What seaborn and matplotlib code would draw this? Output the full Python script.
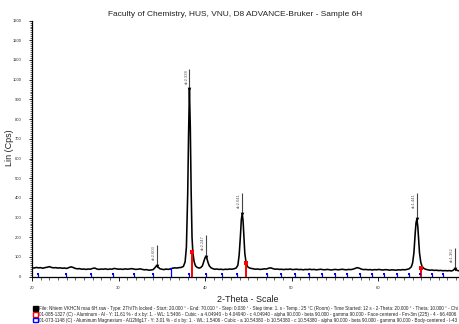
import matplotlib
matplotlib.use("Agg")
import matplotlib.pyplot as plt
from matplotlib.patches import Rectangle
from matplotlib.ticker import MultipleLocator
import pandas as pd
import seaborn as sns

two_theta = [
    20.0, 20.25, 20.5, 20.75, 21.0, 21.25, 21.5, 21.75, 22.0, 22.25, 22.5, 22.75,
    23.0, 23.25, 23.5, 23.75, 24.0, 24.25, 24.5, 24.75, 25.0, 25.25, 25.5, 25.75,
    26.0, 26.25, 26.5, 26.75, 27.0, 27.25, 27.5, 27.75, 28.0, 28.25, 28.5, 28.75,
    29.0, 29.25, 29.5, 29.75, 30.0, 30.25, 30.5, 30.75, 31.0, 31.25, 31.5, 31.75,
    32.0, 32.25, 32.5, 32.75, 33.0, 33.25, 33.5, 33.75, 34.0, 34.2, 34.4, 34.6,
    34.8, 35.0, 35.25, 35.5, 35.75, 36.0, 36.25, 36.5, 36.75, 37.0, 37.25, 37.5,
    37.7, 37.85, 38.0, 38.1, 38.2, 38.3, 38.4, 38.5, 38.6, 38.75, 38.9, 39.1,
    39.3, 39.5, 39.7, 39.85, 40.0, 40.1, 40.2, 40.35, 40.5, 40.7, 40.9, 41.1,
    41.35, 41.6, 41.85, 42.1, 42.35, 42.6, 42.85, 43.1, 43.35, 43.6, 43.8, 43.95,
    44.1, 44.2, 44.3, 44.4, 44.5, 44.6, 44.75, 44.9, 45.1, 45.35, 45.6, 45.85,
    46.1, 46.35, 46.6, 46.85, 47.1, 47.35, 47.6, 47.85, 48.1, 48.35, 48.6, 48.85,
    49.1, 49.35, 49.6, 49.85, 50.1, 50.35, 50.6, 50.85, 51.1, 51.35, 51.6, 51.85,
    52.1, 52.35, 52.6, 52.85, 53.1, 53.35, 53.6, 53.85, 54.1, 54.35, 54.6, 54.85,
    55.1, 55.35, 55.6, 55.85, 56.1, 56.35, 56.6, 56.85, 57.1, 57.35, 57.6, 57.85,
    58.1, 58.35, 58.6, 58.85, 59.1, 59.35, 59.6, 59.85, 60.1, 60.35, 60.6, 60.85,
    61.1, 61.35, 61.6, 61.85, 62.1, 62.35, 62.6, 62.85, 63.1, 63.35, 63.6, 63.85,
    64.0, 64.15, 64.3, 64.4, 64.5, 64.6, 64.7, 64.8, 64.95, 65.1, 65.3, 65.5,
    65.75, 66.0, 66.25, 66.5, 66.75, 67.0, 67.25, 67.5, 67.75, 68.0, 68.25, 68.5,
    68.7, 68.85, 69.0, 69.2, 69.4,
]
counts = [
    46, 44, 47, 45, 46, 43, 46, 48, 51, 47, 45, 46,
    44, 45, 43, 44, 42, 46, 50, 47, 42, 40, 41, 38,
    39, 37, 39, 38, 42, 44, 39, 37, 39, 38, 40, 37,
    39, 38, 42, 40, 38, 39, 37, 40, 38, 39, 41, 39,
    37, 38, 40, 37, 35, 36, 33, 34, 36, 45, 56, 48,
    40, 38, 36, 39, 37, 40, 43, 45, 44, 46, 47, 52,
    75, 150, 420, 720, 955, 760, 430, 200, 120, 75, 55, 47,
    44, 46, 55, 75, 96, 103, 96, 72, 55, 45, 41, 38,
    39, 37, 38, 36, 38, 37, 39, 38, 40, 44, 58, 110,
    210, 290, 320, 285, 200, 120, 70, 52, 45, 42, 40, 38,
    39, 37, 38, 40, 39, 43, 45, 41, 38, 39, 37, 38,
    36, 38, 37, 39, 36, 37, 38, 36, 37, 35, 37, 36,
    38, 36, 37, 35, 36, 38, 36, 35, 37, 36, 34, 36,
    37, 35, 36, 38, 36, 35, 37, 36, 38, 42, 46, 43,
    38, 36, 37, 35, 36, 34, 36, 35, 37, 35, 34, 36,
    35, 33, 35, 34, 33, 35, 34, 36, 35, 37, 40, 50,
    70, 120, 220, 275, 293, 255, 190, 120, 72, 52, 42, 38,
    35, 33, 34, 32, 33, 31, 32, 30, 31, 30, 31, 29,
    33, 39, 36, 31, 30,
]

# peak picks: position, marker height, top of the pick line, label
peak_pos = [34.4, 38.2, 40.1, 44.3, 64.5, 68.9]
peak_height = [54, 952, 101, 318, 291, 39]
peak_top = [160, 1054, 212, 425, 425, 147]
peak_label = ["d=2.603", "d=2.338", "d=2.247", "d=2.041", "d=1.441", "d=1.362"]

# reference pattern 01-085-1327 Aluminum (red)
al_pos = [38.47, 44.72, 65.0]
al_height = [127, 71, 44]

# reference pattern 01-073-1148 Al12Mg17 (blue)
mg_pos = [20.73, 23.93, 26.79, 29.40, 31.83, 34.02, 36.10, 38.18, 40.08, 41.93,
          43.73, 47.13, 48.79, 50.44, 51.99, 53.53, 55.03, 56.45, 57.95, 59.34,
          60.73, 62.16, 63.58, 64.86, 66.21, 67.48]
mg_height = [14, 14, 14, 14, 14, 14, 39, 14, 14, 14,
             14, 14, 14, 14, 14, 14, 14, 14, 14, 14,
             14, 14, 14, 14, 14, 14]

legend_rows = [
    "File: Nhiem VKHCN mau 6H.raw - Type: 2Th/Th locked - Start: 20.000 \u00b0 - End: 70.010 \u00b0 - Step: 0.030 \u00b0 - Step time: 1. s - Temp.: 25 \u00b0C (Room) - Time Started: 12 s - 2-Theta: 20.000 \u00b0 - Theta: 10.000 \u00b0 - Chi",
    "01-085-1327 (C) - Aluminum - Al - Y: 11.61 % - d x by: 1. - WL: 1.5406 - Cubic - a 4.04940 - b 4.04940 - c 4.04940 - alpha 90.000 - beta 90.000 - gamma 90.000 - Face-centered - Fm-3m (225) - 4 - 66.4006",
    "01-073-1148 (C) - Aluminum Magnesium - Al12Mg17 - Y: 3.01 % - d x by: 1. - WL: 1.5406 - Cubic - a 10.54380 - b 10.54380 - c 10.54380 - alpha 90.000 - beta 90.000 - gamma 90.000 - Body-centered - I-43",
]
legend_colours = ['black', '#ff0000', '#0000ff']

sns.set_theme(style='ticks')
plt.rcParams['font.family'] = ['Liberation Sans', 'DejaVu Sans']

W, H = 459, 324
fig = plt.figure(figsize=(W / 100, H / 100), dpi=100)
ax = fig.add_axes([32 / W, 1 - 276.7 / H, 1 - 32 / W, 256.1 / H])

scan = pd.DataFrame({'two_theta': two_theta, 'counts': counts})
sns.lineplot(data=scan, x='two_theta', y='counts', color='black', linewidth=1.15,
             estimator=None, sort=False, ax=ax, zorder=3)

# reference sticks
ax.vlines(mg_pos, 0, mg_height, color='#0000ff', linewidth=0.9, zorder=4)
ax.scatter(mg_pos, mg_height, marker='s', s=3, color='#0000ff', zorder=5, linewidths=0)
ax.vlines(al_pos, 0, al_height, color='#ff0000', linewidth=1.4, zorder=4)
ax.scatter(al_pos, al_height, marker='s', s=5, color='#ff0000', zorder=5, linewidths=0)

# peak picks
ax.vlines(peak_pos, peak_height, peak_top, color='#444444', linewidth=0.8, zorder=4)
ax.scatter(peak_pos, peak_height, marker='v', s=7, color='black', zorder=6, linewidths=0)
for x, top, lab in zip(peak_pos, peak_top, peak_label):
    ax.text(x - 0.12, top, lab, rotation=90, ha='right', va='top',
            fontsize=3, color='#555555', zorder=6)

ax.set_xlim(20, 20 + 427 / 8.65)
ax.set_ylim(0, 1300)
ax.set_xlabel('')
ax.set_ylabel('')
ax.xaxis.set_major_locator(MultipleLocator(10))
ax.xaxis.set_minor_locator(MultipleLocator(1))
ax.yaxis.set_major_locator(MultipleLocator(100))
ax.yaxis.set_minor_locator(MultipleLocator(10))
ax.tick_params(axis='both', which='major', labelsize=3, width=0.6, color='black')
ax.tick_params(axis='x', which='major', length=3, pad=4)
ax.tick_params(axis='x', which='minor', length=2, width=0.5)
ax.tick_params(axis='y', which='major', length=2.5, pad=5)
ax.tick_params(axis='y', which='minor', length=1.5, width=0.5)
for side in ['top', 'right']:
    ax.spines[side].set_visible(False)
for side in ['left', 'bottom']:
    ax.spines[side].set_linewidth(0.9)
    ax.spines[side].set_color('black')

fig.text(235.5 / W, 1 - 14 / H, 'Faculty of Chemistry, HUS, VNU, D8 ADVANCE-Bruker - Sample 6H',
         ha='center', va='center', fontsize=6, color='#222222')
fig.text(248 / W, 1 - 299 / H, '2-Theta - Scale', ha='center', va='center',
         fontsize=6.5, color='#222222')
fig.text(10 / W, 1 - 148 / H, 'Lin (Cps)', ha='center', va='center', rotation=90,
         fontsize=6.5, color='#222222')

row_y = [308.5, 314.3, 320.1]
for y, txt, col in zip(row_y, legend_rows, legend_colours):
    face = 'black' if col == 'black' else 'white'
    fig.patches.append(Rectangle((33 / W, 1 - (y + 2.3) / H), 4.6 / W, 4.6 / H,
                                 transform=fig.transFigure, facecolor=face,
                                 edgecolor=col, linewidth=1.0))
    fig.text(39 / W, 1 - y / H, txt, ha='left', va='center', fontsize=3.3,
             color='#222222')

fig.savefig('out.png', dpi=100)
